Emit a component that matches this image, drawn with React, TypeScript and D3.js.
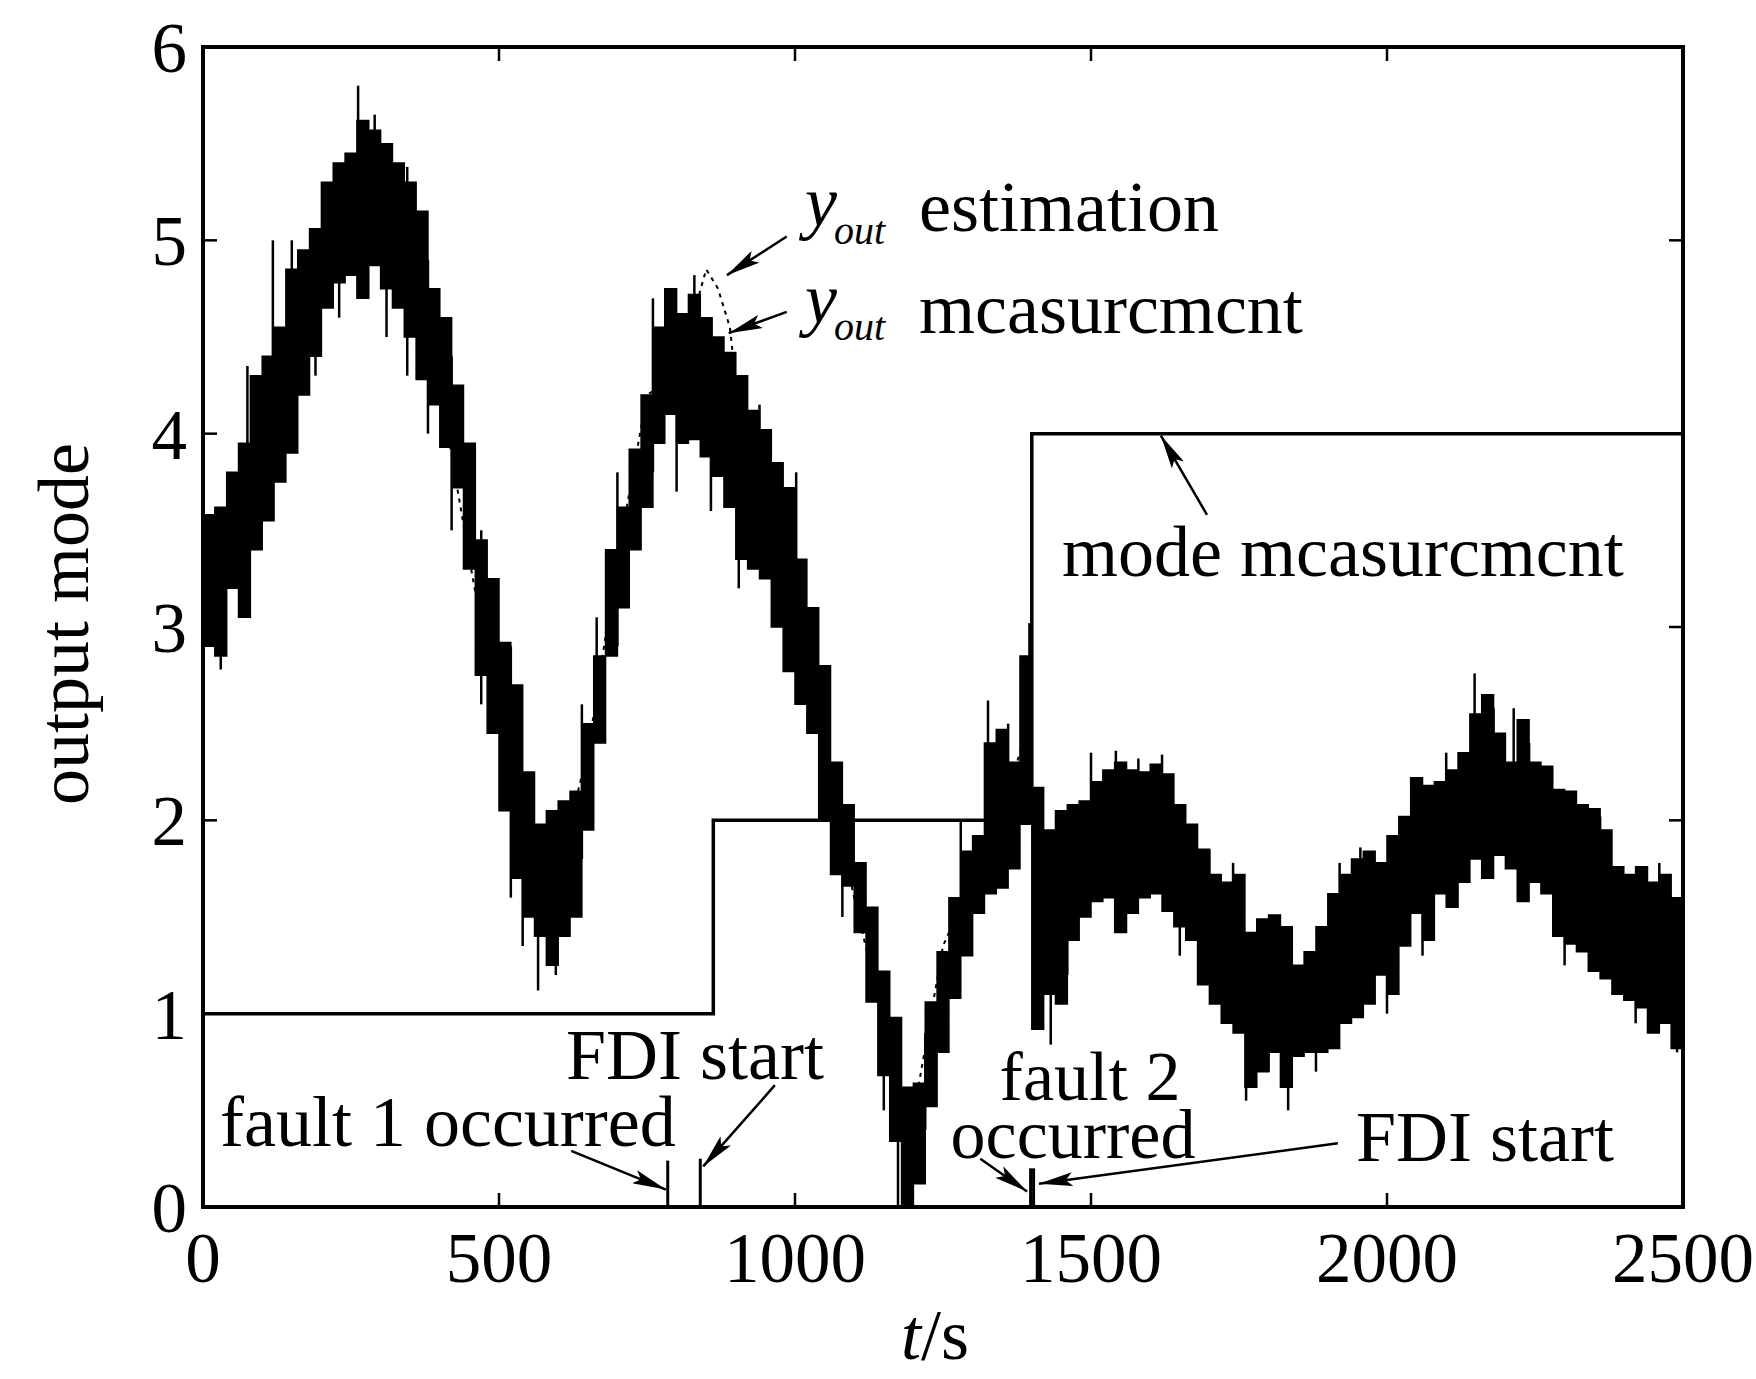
import React from 'react';
import * as d3 from 'd3';

// sampling step of the read-off envelope (s)
const T_STEP = 20;

// y_out measurement: lower / upper edge of the noisy band, one value every 20 s from 0 to 2500
const measLow = [
  2.9, 2.85, 3.2, 3.05, 3.4, 3.55, 3.75, 3.9, 4.2, 4.4,
  4.65, 4.78, 4.82, 4.7, 4.87, 4.75, 4.65, 4.5, 4.28, 4.15,
  3.93, 3.72, 3.3, 2.75, 2.45, 2.05, 1.7, 1.5, 1.4, 1.25,
  1.4, 1.5, 1.95, 2.4, 2.85, 3.1, 3.4, 3.62, 3.95, 4.1,
  3.95, 3.97, 3.88, 3.78, 3.62, 3.35, 3.3, 3.25, 3.0, 2.77,
  2.6, 2.45, 2.0, 1.72, 1.66, 1.42, 1.06, 0.68, 0.34, 0.0,
  0.12, 0.52, 0.8, 1.08, 1.3, 1.52, 1.62, 1.65, 1.75, 1.98,
  0.92, 1.1, 1.05, 1.38, 1.5, 1.58, 1.6, 1.42, 1.52, 1.6,
  1.62, 1.53, 1.45, 1.38, 1.15, 1.05, 0.95, 0.9, 0.62, 0.7,
  0.8, 0.62, 0.78, 0.8, 0.8, 0.82, 0.95, 0.98, 1.05, 1.2,
  1.1, 1.35, 1.52, 1.38, 1.62, 1.55, 1.68, 1.8, 1.7, 1.82,
  1.75, 1.58, 1.68, 1.62, 1.4, 1.36, 1.32, 1.22, 1.18, 1.1,
  1.07, 1.03, 0.9, 0.95, 0.82, 0.9
];
const measHigh = [
  3.58, 3.62, 3.8, 3.95, 4.3, 4.4, 4.55, 4.85, 4.95, 5.06,
  5.3, 5.4, 5.45, 5.62, 5.57, 5.5, 5.4, 5.3, 5.15, 4.75,
  4.6, 4.25, 3.95, 3.45, 3.25, 2.92, 2.7, 2.25, 1.98, 2.05,
  2.1, 2.15, 2.5, 2.85, 3.4, 3.62, 3.92, 4.2, 4.55, 4.75,
  4.62, 4.72, 4.6, 4.5, 4.42, 4.3, 4.12, 4.02, 3.85, 3.72,
  3.35, 3.1, 2.8, 2.3, 2.08, 1.78, 1.55, 1.22, 0.98, 0.62,
  0.64, 1.06, 1.32, 1.6, 1.84, 1.92, 2.4, 2.47, 2.3, 2.85,
  2.17, 1.95, 2.05, 2.08, 2.1, 2.2, 2.26, 2.3, 2.26, 2.25,
  2.29, 2.24, 2.08, 1.98, 1.85, 1.72, 1.68, 1.72, 1.42, 1.49,
  1.51, 1.45, 1.25, 1.32, 1.45, 1.62, 1.72, 1.8, 1.84, 1.78,
  1.92, 2.02, 2.22, 2.18, 2.2, 2.26, 2.35, 2.55, 2.65, 2.45,
  2.3, 2.52, 2.3, 2.28, 2.16, 2.15, 2.08, 2.06, 1.95, 1.76,
  1.72, 1.76, 1.68, 1.72, 1.6, 1.42
];

// single noise spikes sticking out of the band: [t, low, high]
const spikes = [
  [30, 2.78, 3.3], [75, 3.9, 4.35], [118, 4.0, 5.0], [150, 4.5, 5.0], [190, 4.3, 4.7],
  [230, 4.6, 5.0], [262, 5.2, 5.8], [290, 5.3, 5.65], [310, 4.5, 4.9], [345, 4.3, 5.38],
  [380, 4.0, 4.9], [420, 3.5, 4.4], [470, 2.6, 3.5], [520, 1.6, 2.9], [540, 1.35, 1.8],
  [566, 1.12, 1.7], [596, 1.2, 1.8], [640, 1.8, 2.6], [665, 2.45, 3.05], [700, 2.9, 3.8],
  [760, 3.8, 4.7], [800, 3.7, 4.2], [830, 4.3, 4.82], [858, 3.6, 4.1], [905, 3.2, 3.6],
  [940, 3.7, 4.15], [1002, 2.9, 3.8], [1058, 2.0, 2.62], [1080, 1.5, 1.9], [1150, 0.5, 0.9],
  [1174, 0, 0.55], [1192, 0, 0.5], [1220, 0.4, 0.9], [1280, 1.6, 2.0], [1326, 2.0, 2.62],
  [1360, 2.0, 2.5], [1396, 2.4, 3.02], [1432, 0.84, 1.5], [1460, 1.2, 1.6], [1500, 2.0, 2.35],
  [1542, 1.9, 2.36], [1580, 1.9, 2.32], [1620, 1.95, 2.34], [1650, 1.3, 1.7], [1700, 1.5, 1.85],
  [1740, 1.5, 1.78], [1762, 0.55, 1.0], [1800, 0.7, 1.0], [1833, 0.5, 1.0], [1880, 0.7, 1.1],
  [1920, 1.5, 1.78], [1955, 1.0, 1.86], [2000, 1.0, 1.4], [2060, 1.3, 1.6], [2100, 2.0, 2.35],
  [2148, 2.3, 2.76], [2180, 2.3, 2.58], [2214, 2.1, 2.58], [2240, 2.0, 2.4], [2300, 1.25, 1.6],
  [2360, 1.7, 2.02], [2420, 0.95, 1.3], [2460, 1.5, 1.78], [2490, 0.8, 1.3]
];

// y_out estimation
const estT = [0, 50, 100, 150, 200, 250, 300, 350, 400, 450, 500, 550, 600, 650, 700, 750, 800,
  850, 870, 890, 920, 950, 1000, 1050, 1100, 1150, 1190, 1250, 1300, 1350, 1395, 1405, 1500,
  1600, 1700, 1800, 1900, 2000, 2100, 2150, 2200, 2300, 2400, 2500];
const estV = [3.2, 3.5, 4.0, 4.55, 4.95, 5.15, 5.1, 4.75, 4.25, 3.35, 2.5, 1.75, 1.75, 2.35, 3.35,
  4.2, 4.3, 4.85, 4.75, 4.55, 3.7, 3.6, 3.0, 2.3, 1.6, 0.95, 0.3, 1.35, 1.7, 2.05, 2.5, 1.55, 1.9,
  1.95, 1.4, 1.15, 1.2, 1.5, 1.9, 2.2, 2.05, 1.75, 1.4, 1.15];

// mode measurement (step changes)
const modeT = [0, 862, 1400, 2500];
const modeV = [1, 2, 4, 4];

// fault / FDI markers at the bottom
const markerT = [785, 840, 1398, 1403];
const markerH = [0.24, 0.25, 0.2, 0.2];

const xTicks = [0, 500, 1000, 1500, 2000, 2500];
const yTicks = [0, 1, 2, 3, 4, 5, 6];

// annotation arrows in data units: from [t, v] to tip [t, v]
const arrows = [
  { from: [986, 5.02], to: [885, 4.82] },
  { from: [986, 4.63], to: [888, 4.52] },
  { from: [1696, 3.58], to: [1618, 3.99] },
  { from: [622, 0.29], to: [782, 0.09] },
  { from: [966, 0.63], to: [845, 0.21] },
  { from: [1313, 0.25], to: [1392, 0.08] },
  { from: [1917, 0.33], to: [1412, 0.12] }
];

const W = 1756;
const H = 1379;
const FONT = '"Liberation Serif", "Times New Roman", serif';

export default function App() {
  const x = d3.scaleLinear().domain([0, 2500]).range([203, 1683]);
  const y = d3.scaleLinear().domain([0, 6]).range([1207, 47]);

  const times = d3.range(0, 2500 + 1, T_STEP);
  const band = d3
    .area<number>()
    .x((t) => x(t))
    .y0((_, i) => y(measLow[i]))
    .y1((_, i) => y(measHigh[i]))
    .curve(d3.curveStepAfter);

  const estLine = d3
    .line<number>()
    .x((t) => x(t))
    .y((_, i) => y(estV[i]))
    .curve(d3.curveLinear);

  const modeLine = d3
    .line<number>()
    .x((t) => x(t))
    .y((_, i) => y(modeV[i]))
    .curve(d3.curveStepAfter);

  const [x0, x1] = x.range();
  const [y0, y1] = y.range();
  const tick = 14;

  return (
    <svg
      width={W}
      height={H}
      style={{ position: 'absolute', left: 0, top: 0, background: '#fff' }}
      fontFamily={FONT}
    >
      <defs>
        <marker
          id="arr"
          viewBox="0 0 34 14"
          refX="34"
          refY="7"
          markerWidth="34"
          markerHeight="14"
          markerUnits="userSpaceOnUse"
          orient="auto"
        >
          <path d="M0,0 L34,7 L0,14 L7,7 Z" fill="#000" />
        </marker>
      </defs>

      {/* y_out measurement band */}
      <path d={band(times) || ''} fill="#000" stroke="#000" strokeWidth={1.5} />
      {spikes.map(([t, lo, hi], i) => (
        <line key={i} x1={x(t)} x2={x(t)} y1={y(lo)} y2={y(hi)} stroke="#000" strokeWidth={2.5} />
      ))}

      {/* y_out estimation */}
      <path d={estLine(estT) || ''} fill="none" stroke="#000" strokeWidth={2} strokeDasharray="4 5" />

      {/* mode measurement */}
      <path d={modeLine(modeT) || ''} fill="none" stroke="#000" strokeWidth={3.5} />

      {/* fault / FDI markers */}
      {markerT.map((t, i) => (
        <line key={i} x1={x(t)} x2={x(t)} y1={y(0)} y2={y(markerH[i])} stroke="#000" strokeWidth={3} />
      ))}

      {/* frame */}
      <rect x={x0} y={y1} width={x1 - x0} height={y0 - y1} fill="none" stroke="#000" strokeWidth={4} />
      {xTicks.map((t) => (
        <g key={t}>
          <line x1={x(t)} x2={x(t)} y1={y0} y2={y0 - tick} stroke="#000" strokeWidth={2.5} />
          <line x1={x(t)} x2={x(t)} y1={y1} y2={y1 + tick} stroke="#000" strokeWidth={2.5} />
          <text x={x(t)} y={1282} fontSize={71} textAnchor="middle">
            {t}
          </text>
        </g>
      ))}
      {yTicks.map((v) => (
        <g key={v}>
          <line x1={x0} x2={x0 + tick} y1={y(v)} y2={y(v)} stroke="#000" strokeWidth={2.5} />
          <line x1={x1} x2={x1 - tick} y1={y(v)} y2={y(v)} stroke="#000" strokeWidth={2.5} />
          <text x={187} y={y(v)} dy="0.35em" fontSize={71} textAnchor="end">
            {v}
          </text>
        </g>
      ))}

      {/* axis titles */}
      <text x={935} y={1359} fontSize={72} textAnchor="middle">
        <tspan fontStyle="italic">t</tspan>/s
      </text>
      <text transform="translate(88,624) rotate(-90)" fontSize={72} textAnchor="middle">
        output mode
      </text>

      {/* annotations */}
      {arrows.map((a, i) => (
        <line
          key={i}
          x1={x(a.from[0])}
          y1={y(a.from[1])}
          x2={x(a.to[0])}
          y2={y(a.to[1])}
          stroke="#000"
          strokeWidth={2.5}
          markerEnd="url(#arr)"
        />
      ))}
      <text x={805} y={226} fontSize={72} fontStyle="italic">y</text>
      <text x={834} y={244} fontSize={40} fontStyle="italic">out</text>
      <text x={919} y={231} fontSize={72}>estimation</text>
      <text x={805} y={323} fontSize={72} fontStyle="italic">y</text>
      <text x={834} y={340} fontSize={40} fontStyle="italic">out</text>
      <text x={919} y={333} fontSize={72}>mcasurcmcnt</text>
      <text x={1062} y={576} fontSize={72}>mode mcasurcmcnt</text>
      <text x={824} y={1079} fontSize={72} textAnchor="end">FDI start</text>
      <text x={220} y={1146} fontSize={72}>fault 1 occurred</text>
      <text fontSize={70} textAnchor="middle">
        <tspan x={1090} y={1100}>fault 2</tspan>
        <tspan x={1073} y={1158}>occurred</tspan>
      </text>
      <text x={1614} y={1161} fontSize={72} textAnchor="end">FDI start</text>
    </svg>
  );
}
